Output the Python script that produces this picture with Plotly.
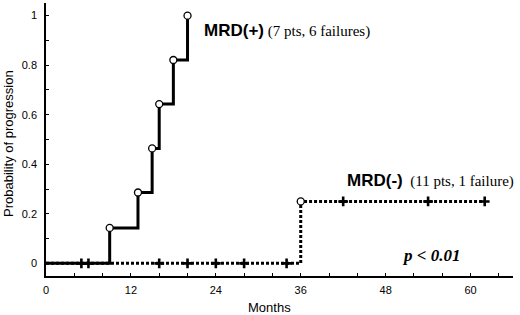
import plotly.graph_objects as go

# ---- data ----
x_ticks = [0, 12, 24, 36, 48, 60]
y_ticks = [0, 0.2, 0.4, 0.6, 0.8, 1]
y_tick_labels = ["0", "0.2", "0.4", "0.6", "0.8", "1"]

pos_event_times = [9, 13, 15, 16, 18, 20]
pos_event_prob = [0.143, 0.286, 0.464, 0.643, 0.821, 1.0]

neg_event_times = [36]
neg_event_prob = [0.25]
neg_censor_times = [5, 6, 16, 20, 24, 28, 34, 42, 54, 62]
neg_last_followup = 62

def step_value(t, times, probs):
    v = 0.0
    for tt, pp in zip(times, probs):
        if t >= tt:
            v = pp
    return v

pos_x = [0] + pos_event_times
pos_y = [0] + pos_event_prob
neg_x = [0] + neg_event_times + [neg_last_followup]
neg_y = [0] + neg_event_prob + [neg_event_prob[-1]]
neg_censor_y = [step_value(t, neg_event_times, neg_event_prob) for t in neg_censor_times]

fig = go.Figure()

# MRD(-) dotted curve
fig.add_trace(go.Scatter(x=neg_x, y=neg_y, mode="lines", line_shape="hv",
                         line=dict(color="black", width=3, dash="3px,2px"),
                         hoverinfo="skip", showlegend=False))
# MRD(+) solid curve
fig.add_trace(go.Scatter(x=pos_x, y=pos_y, mode="lines", line_shape="hv",
                         line=dict(color="black", width=3),
                         hoverinfo="skip", showlegend=False))
# censor marks
fig.add_trace(go.Scatter(x=neg_censor_times, y=neg_censor_y, mode="markers",
                         marker=dict(symbol="cross-thin", size=7,
                                     line=dict(color="black", width=2.6)),
                         showlegend=False))
# event circles
fig.add_trace(go.Scatter(x=pos_event_times + neg_event_times,
                         y=pos_event_prob + neg_event_prob, mode="markers",
                         marker=dict(symbol="circle", size=7, color="white",
                                     line=dict(color="black", width=1.3)),
                         showlegend=False))

sans = "Liberation Sans, Arial, sans-serif"
serif = "Liberation Serif, Times New Roman, serif"

fig.add_annotation(x=22.0, y=0.942, xref="x", yref="y", xanchor="left", yanchor="middle",
                   showarrow=False,
                   text="<b>MRD(+)</b><span style='font-family:Liberation Serif;font-size:15px'> (7 pts, 6 failures)</span>",
                   font=dict(family=sans, size=17, color="black"))
fig.add_annotation(x=42.3, y=0.333, xref="x", yref="y", xanchor="left", yanchor="middle",
                   showarrow=False,
                   text="<b>MRD(-)</b><span style='font-family:Liberation Serif;font-size:15px'>  (11 pts, 1 failure)</span>",
                   font=dict(family=sans, size=17, color="black"))
fig.add_annotation(x=50.0, y=0.030, xref="x", yref="y", xanchor="left", yanchor="middle",
                   showarrow=False, text="<b><i>p &lt; 0.01</i></b>",
                   font=dict(family=serif, size=17, color="black"))

# axis titles
fig.add_annotation(x=(269 - 46) / 467, y=-(307 - 276) / 273, xref="paper", yref="paper",
                   xanchor="center", yanchor="middle", showarrow=False, text="Months",
                   font=dict(family=sans, size=13, color="black"))
fig.add_annotation(x=-(46 - 9) / 467, y=(276 - 144) / 273, xref="paper", yref="paper",
                   xanchor="center", yanchor="middle", showarrow=False, textangle=-90,
                   text="Probability of progression",
                   font=dict(family=sans, size=13, color="black"))

fig.update_xaxes(range=[0, 66], tickvals=x_ticks, ticktext=[str(v) for v in x_ticks],
                 showgrid=False, zeroline=False, showline=True, linecolor="black", linewidth=1.5,
                 ticks="inside", ticklen=3, tickwidth=1, tickcolor="black",
                 minor=dict(dtick=4, tick0=0, ticks="inside", ticklen=3, tickcolor="black", showgrid=False),
                 tickfont=dict(family=sans, size=11, color="black"), ticklabelstandoff=3)
fig.update_yaxes(range=[-0.051, 1.051], tickvals=y_ticks, ticktext=y_tick_labels,
                 showgrid=False, zeroline=False, showline=True, linecolor="black", linewidth=1.5,
                 ticks="inside", ticklen=3, tickwidth=1, tickcolor="black",
                 minor=dict(dtick=0.1, tick0=0, ticks="inside", ticklen=3, tickcolor="black", showgrid=False),
                 tickfont=dict(family=sans, size=11, color="black"), ticklabelstandoff=5)

fig.update_layout(width=520, height=315,
                  margin=dict(l=46, r=7, t=3, b=39, autoexpand=False),
                  paper_bgcolor="white", plot_bgcolor="white", showlegend=False)

fig.write_html("out.html", config={"displayModeBar": False},
               post_script="document.body.style.margin='0';")
